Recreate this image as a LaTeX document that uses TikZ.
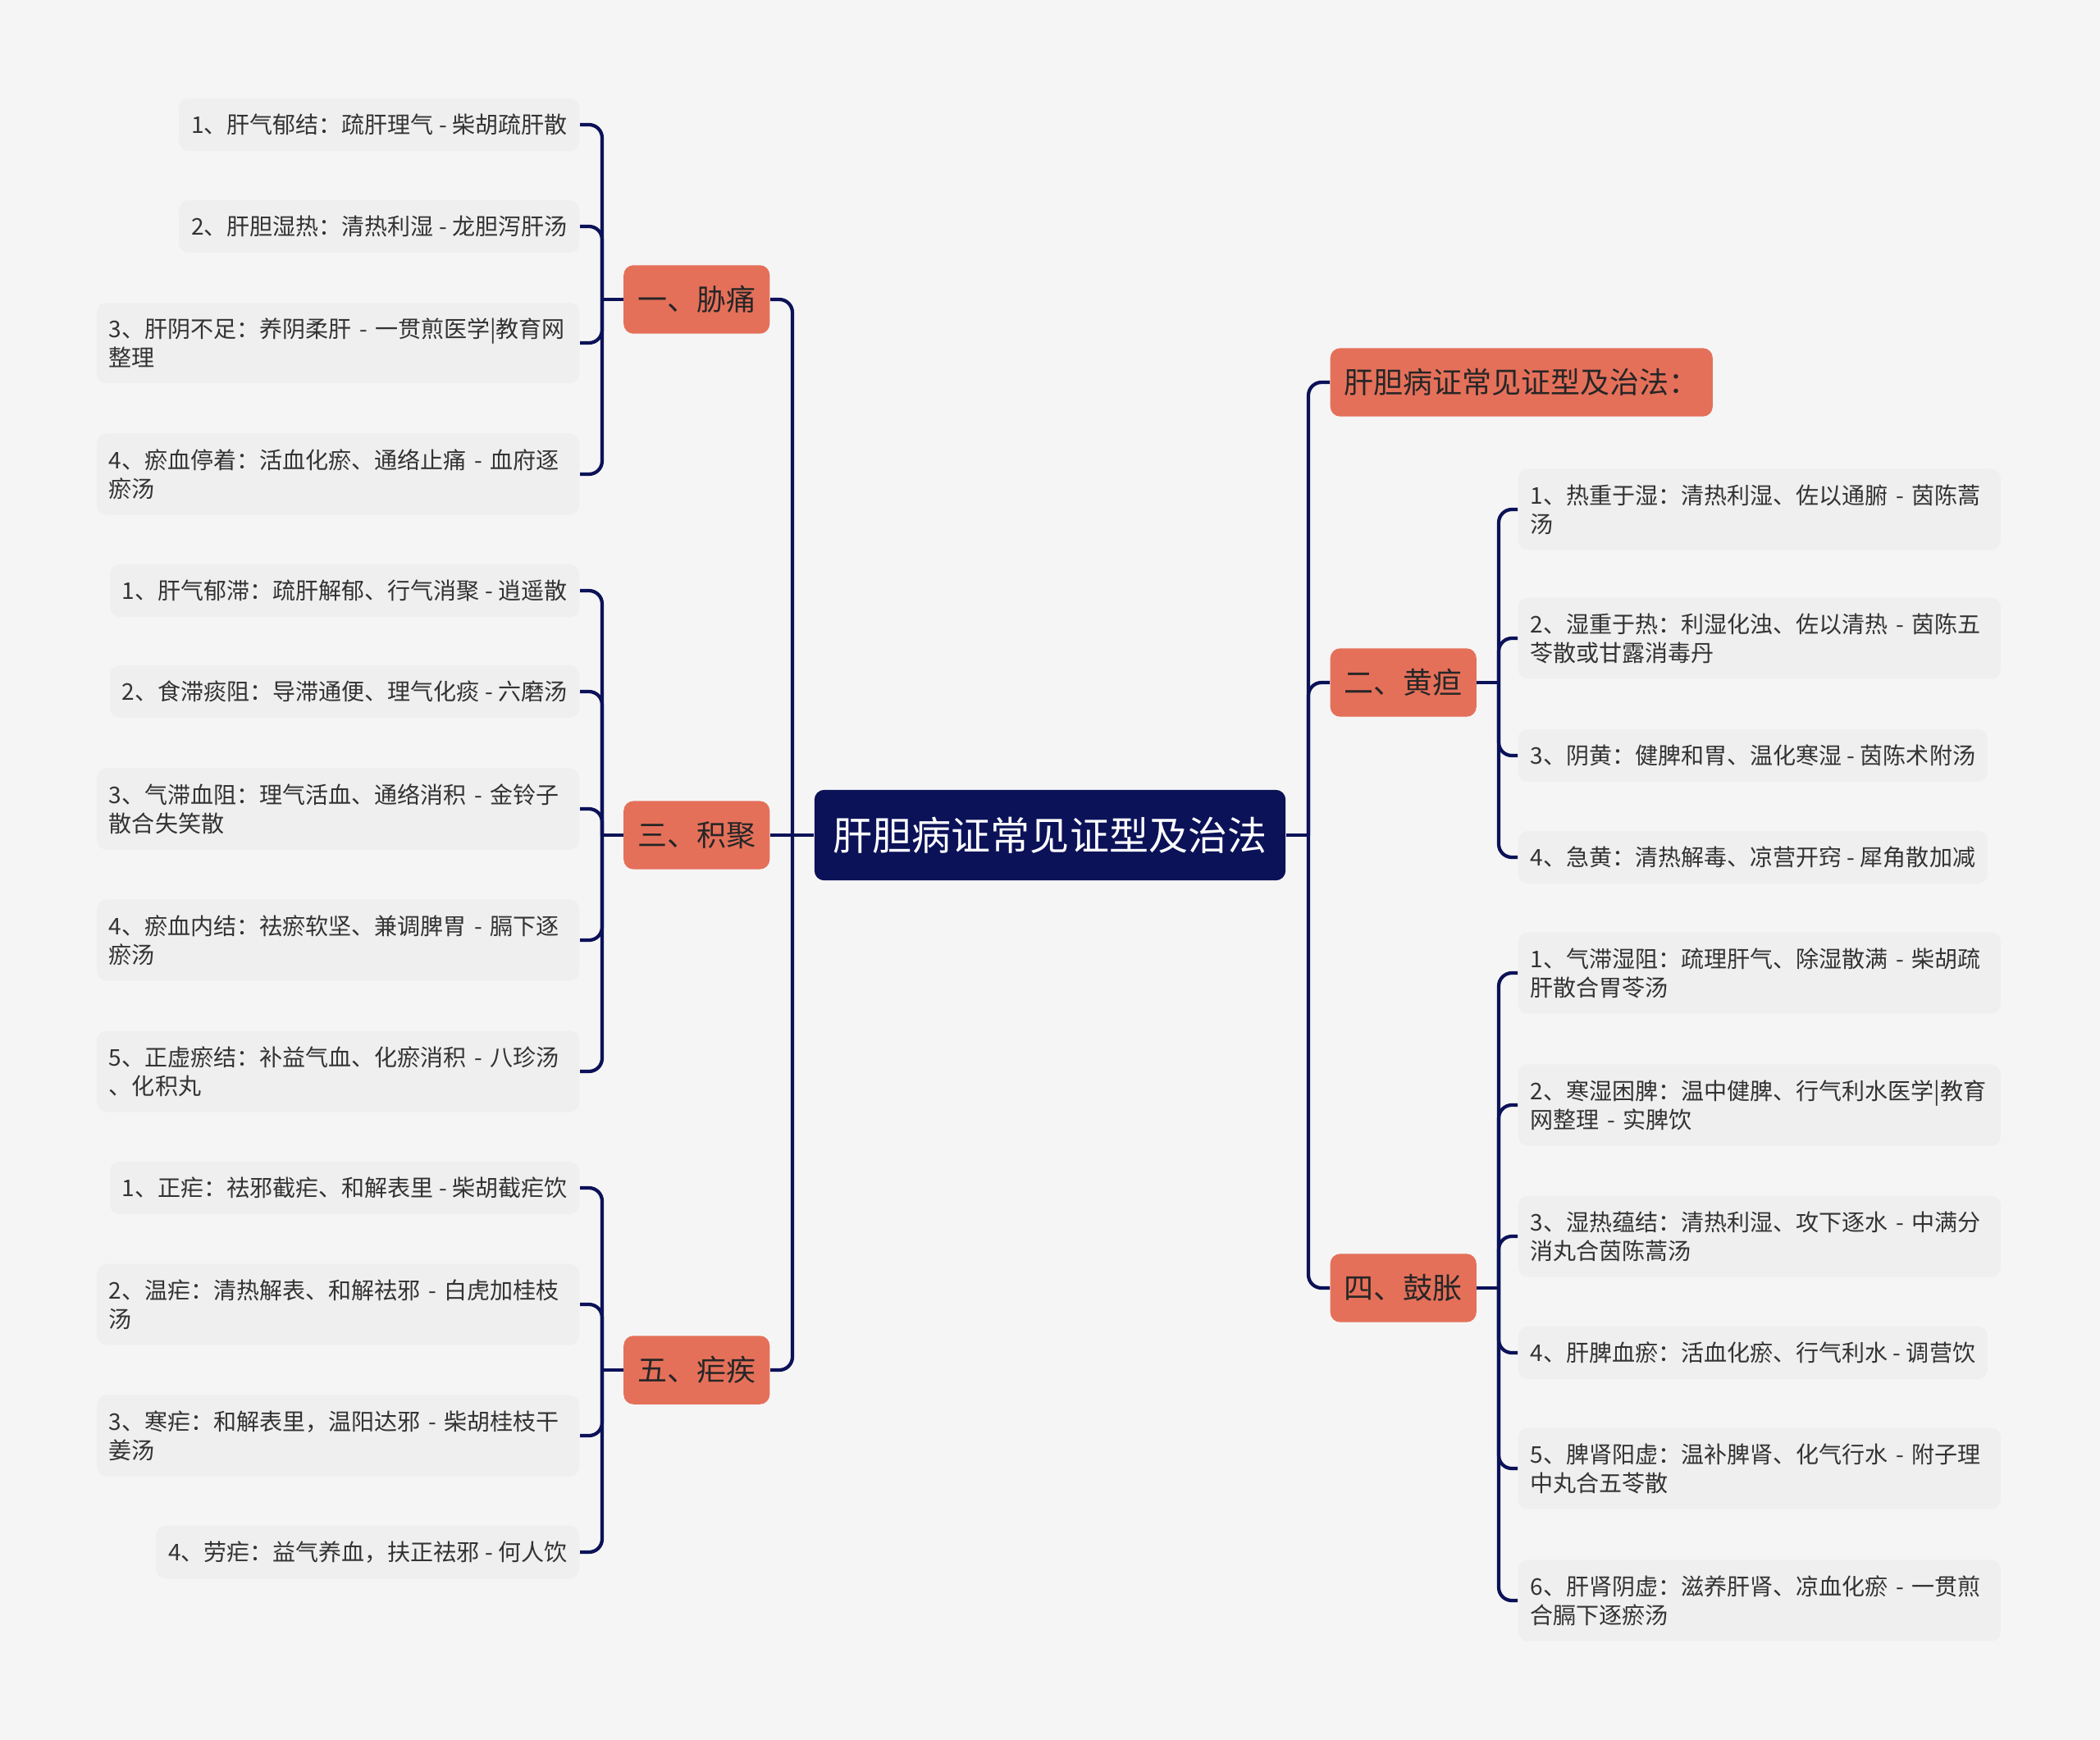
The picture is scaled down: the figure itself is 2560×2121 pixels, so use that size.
\documentclass[tikz,border=0pt]{standalone}
\usepackage{fontspec}
\newfontfamily\cjk{Noto Sans CJK SC}
\definecolor{navy}{HTML}{0B1258}
\definecolor{salmon}{HTML}{E5705A}
\definecolor{leafgray}{HTML}{EFEFEF}
\definecolor{canvas}{HTML}{F5F5F5}
\definecolor{ink}{HTML}{333333}

\begin{document}
\begin{tikzpicture}[x=0.01cm,y=-0.01cm,
		root/.style={fill=navy,text=white,rounded corners=0.12cm,inner xsep=0.23cm,inner ysep=0.33cm,
			font=\cjk\fontsize{13.66pt}{16pt}\selectfont},
		topic/.style={fill=salmon,text=black!85,rounded corners=0.12cm,inner xsep=0.17cm,inner ysep=0.25cm,
			font=\cjk\fontsize{10.24pt}{12pt}\selectfont},
		leaf/.style={fill=leafgray,text=ink,rounded corners=0.12cm,inner xsep=0.15cm,inner ysep=0.19cm,
			align=left,font=\cjk\fontsize{7.97pt}{9.96pt}\selectfont},
		wide/.style={text width=5.58cm},
		lleaf/.style={leaf,anchor=east},
		rleaf/.style={leaf,anchor=west},
		link/.style={draw=navy,line width=1.2pt,rounded corners=0.16cm}]
	\fill[canvas] (0,0) rectangle (2560,2121);
	\useasboundingbox (0,0) rectangle (2560,2121);

	% centre and main topics
	\node[root] (root) at (1280,1018) {肝胆病证常见证型及治法};
	\node[topic,anchor=east] (xt) at (939,365) {一、胁痛};
	\node[topic,anchor=east] (jj) at (939,1018) {三、积聚};
	\node[topic,anchor=east] (nj) at (939,1670) {五、疟疾};
	\node[topic,anchor=west] (intro) at (1621,466) {肝胆病证常见证型及治法：};
	\node[topic,anchor=west] (hd) at (1621,832) {二、黄疸};
	\node[topic,anchor=west] (gz) at (1621,1570) {四、鼓胀};

	% left leaves
	\node[lleaf] (xt1) at (707,152) {1、肝气郁结：疏肝理气 - 柴胡疏肝散};
	\node[lleaf] (xt2) at (707,276) {2、肝胆湿热：清热利湿 - 龙胆泻肝汤};
	\node[lleaf,wide] (xt3) at (707,418) {3、肝阴不足：养阴柔肝 - 一贯煎医学|教育网\\整理};
	\node[lleaf,wide] (xt4) at (707,578) {4、瘀血停着：活血化瘀、通络止痛 - 血府逐\\瘀汤};

	\node[lleaf] (jj1) at (707,720) {1、肝气郁滞：疏肝解郁、行气消聚 - 逍遥散};
	\node[lleaf] (jj2) at (707,843) {2、食滞痰阻：导滞通便、理气化痰 - 六磨汤};
	\node[lleaf,wide] (jj3) at (707,986) {3、气滞血阻：理气活血、通络消积 - 金铃子\\散合失笑散};
	\node[lleaf,wide] (jj4) at (707,1146) {4、瘀血内结：祛瘀软坚、兼调脾胃 - 膈下逐\\瘀汤};
	\node[lleaf,wide] (jj5) at (707,1306) {5、正虚瘀结：补益气血、化瘀消积 - 八珍汤\\、化积丸};

	\node[lleaf] (nj1) at (707,1448) {1、正疟：祛邪截疟、和解表里 - 柴胡截疟饮};
	\node[lleaf,wide] (nj2) at (707,1590) {2、温疟：清热解表、和解祛邪 - 白虎加桂枝\\汤};
	\node[lleaf,wide] (nj3) at (707,1750) {3、寒疟：和解表里，温阳达邪 - 柴胡桂枝干\\姜汤};
	\node[lleaf] (nj4) at (707,1892) {4、劳疟：益气养血，扶正祛邪 - 何人饮};

	% right leaves
	\node[rleaf,wide] (hd1) at (1850,621) {1、热重于湿：清热利湿、佐以通腑 - 茵陈蒿\\汤};
	\node[rleaf,wide] (hd2) at (1850,778) {2、湿重于热：利湿化浊、佐以清热 - 茵陈五\\苓散或甘露消毒丹};
	\node[rleaf] (hd3) at (1850,921) {3、阴黄：健脾和胃、温化寒湿 - 茵陈术附汤};
	\node[rleaf] (hd4) at (1850,1045) {4、急黄：清热解毒、凉营开窍 - 犀角散加减};

	\node[rleaf,wide] (gz1) at (1850,1186) {1、气滞湿阻：疏理肝气、除湿散满 - 柴胡疏\\肝散合胃苓汤};
	\node[rleaf,wide] (gz2) at (1850,1347) {2、寒湿困脾：温中健脾、行气利水医学|教育\\网整理 - 实脾饮};
	\node[rleaf,wide] (gz3) at (1850,1507) {3、湿热蕴结：清热利湿、攻下逐水 - 中满分\\消丸合茵陈蒿汤};
	\node[rleaf] (gz4) at (1850,1649) {4、肝脾血瘀：活血化瘀、行气利水 - 调营饮};
	\node[rleaf,wide] (gz5) at (1850,1790) {5、脾肾阳虚：温补脾肾、化气行水 - 附子理\\中丸合五苓散};
	\node[rleaf,wide] (gz6) at (1850,1951) {6、肝肾阴虚：滋养肝肾、凉血化瘀 - 一贯煎\\合膈下逐瘀汤};

	% junctions
	\coordinate (lj) at (966,1018);
	\coordinate (rj) at (1595,1018);
	\coordinate (xtj) at (734,365);
	\coordinate (jjj) at (734,1018);
	\coordinate (njj) at (734,1670);
	\coordinate (hdj) at (1827,832);
	\coordinate (gzj) at (1827,1570);

	% connectors
	\draw[link] (root.west) -- (jj.east);
	\draw[link] (xt.east) -| (lj);
	\draw[link] (nj.east) -| (lj);
	\draw[link] (root.east) -- (rj);
	\foreach \t in {intro,hd,gz}
		\draw[link] (\t.west) -| (rj);

	\foreach \t in {xt,jj,nj}
		\draw[link] (\t.west) -- (\t j);
	\foreach \t in {hd,gz}
		\draw[link] (\t.east) -- (\t j);

	\foreach \l in {1,...,4}
		\draw[link] (xt\l.east) -| (xtj);
	\foreach \l in {1,...,5}
		\draw[link] (jj\l.east) -| (jjj);
	\foreach \l in {1,...,4}
		\draw[link] (nj\l.east) -| (njj);
	\foreach \l in {1,...,4}
		\draw[link] (hd\l.west) -| (hdj);
	\foreach \l in {1,...,6}
		\draw[link] (gz\l.west) -| (gzj);
\end{tikzpicture}
\end{document}
